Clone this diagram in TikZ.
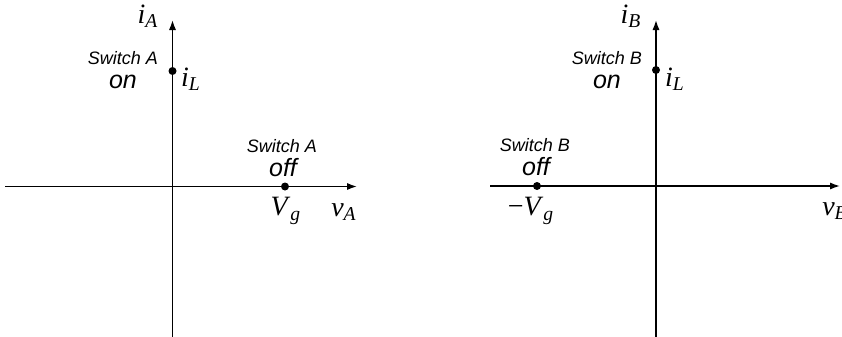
\documentclass[tikz,border=0pt]{standalone}
\usepackage{fontspec}
\setmainfont{Liberation Serif}
\setsansfont{Liberation Sans}
\usetikzlibrary{arrows.meta}

% italic variable with italic subscript
\newcommand{\var}[2]{\textit{#1}\textsubscript{\textit{#2}}}

\begin{document}
\begin{tikzpicture}[x=0.5pt, y=-0.5pt,
    axis/.style={line width=0.75pt, -{Latex[length=5pt,width=3.6pt]}},
    dot/.style={circle, fill=black, inner sep=0pt, minimum size=4pt},
    mathlbl/.style={font=\fontsize{14}{16}\selectfont},
    swlbl/.style={font=\sffamily\itshape\fontsize{9}{11}\selectfont},
    statelbl/.style={font=\sffamily\itshape\fontsize{12.5}{14}\selectfont}]
    \useasboundingbox (0,0) rectangle (842,337);

    % Switch A plane
    \coordinate (xAstart) at (5,186.5);
    \coordinate (xAend) at (357,186.5);
    \coordinate (yAstart) at (172.5,337);
    \coordinate (yAend) at (172.5,20);
    \draw[axis] (xAstart) -- (xAend);
    \draw[axis] (yAstart) -- (yAend);
    \node[mathlbl] (iA) at (148,16) {\var{i}{A}};
    \node[mathlbl] (vA) at (344,212) {\var{v}{A}};

    % Operating points of switch A
    \node[dot] (onA) at (172.5,71) {};
    \node[dot] (offA) at (285,186.5) {};
    \node[mathlbl] (iLA) at (191,79) {\var{i}{L}};
    \node[mathlbl] (VgA) at (286,211) {\var{V}{g}};
    \node[swlbl] (swonA) at (123,58) {Switch A};
    \node[statelbl] (onAtext) at (123,82) {on};
    \node[swlbl] (swoffA) at (282,146) {Switch A};
    \node[statelbl] (offAtext) at (283,168) {off};

    % Switch B plane
    \coordinate (xBstart) at (490,186);
    \coordinate (xBend) at (840,186);
    \coordinate (yBstart) at (656,337);
    \coordinate (yBend) at (656,20);
    \draw[axis] (xBstart) -- (xBend);
    \draw[axis] (yBstart) -- (yBend);
    \node[mathlbl] (iB) at (631,16) {\var{i}{B}};
    \node[mathlbl] (vB) at (835,211) {\var{v}{B}};

    % Operating points of switch B
    \node[dot] (onB) at (656,70) {};
    \node[dot] (offB) at (537,186) {};
    \node[mathlbl] (iLB) at (675,79) {\var{i}{L}};
    \node[mathlbl] (VgB) at (531,211) {−\var{V}{g}};
    \node[swlbl] (swonB) at (607,58) {Switch B};
    \node[statelbl] (onBtext) at (607,82) {on};
    \node[swlbl] (swoffB) at (535,145) {Switch B};
    \node[statelbl] (offBtext) at (536,167) {off};

\end{tikzpicture}
\end{document}
